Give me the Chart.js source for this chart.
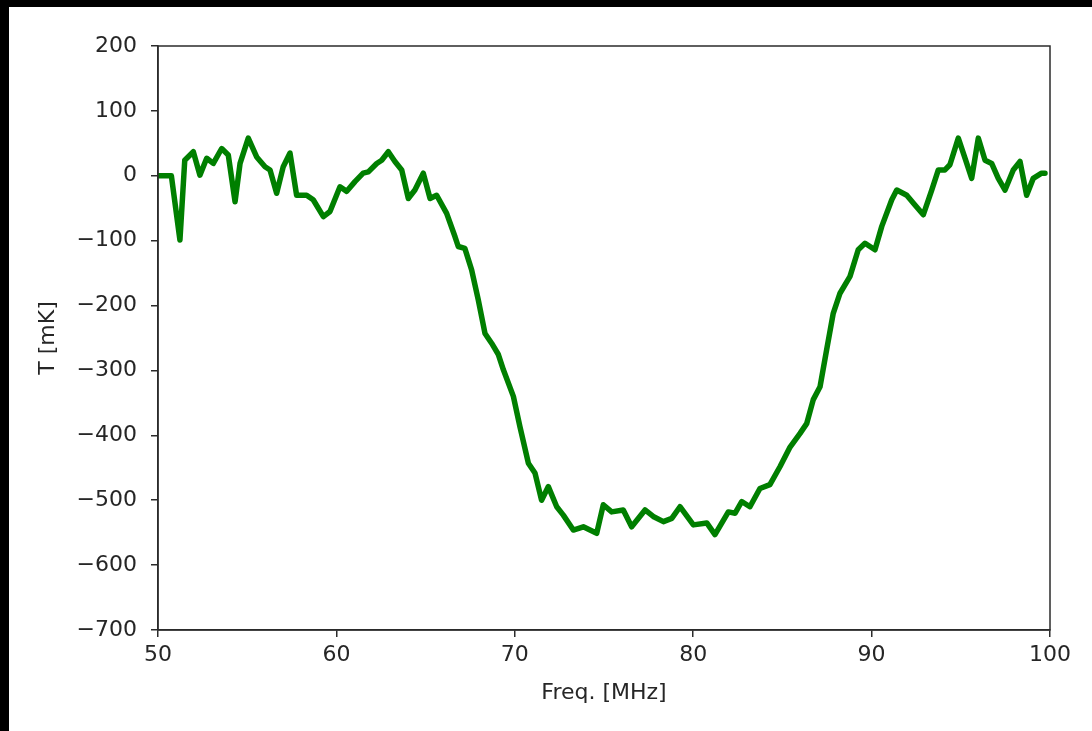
<!DOCTYPE html>
<html>
<head>
<meta charset="utf-8">
<script src="https://cdn.jsdelivr.net/npm/chart.js@4/dist/chart.umd.min.js"></script>
<style>
  html, body { margin: 0; padding: 0; background: #000; width: 1092px; height: 731px; overflow: hidden; }
  #wrap { position: absolute; left: 9px; top: 7px; width: 1083px; height: 724px; background: #fff; }
</style>
</head>
<body>
<div id="wrap"><canvas id="c" width="1083" height="724"></canvas></div>
<script>
const freqMHz = [50.05, 50.75, 51.23, 51.5, 51.98, 52.35, 52.73, 53.1, 53.57, 53.94, 54.32, 54.6, 55.06, 55.53, 56.0, 56.28, 56.65, 57.02, 57.4, 57.77, 58.33, 58.7, 59.27, 59.64, 60.2, 60.58, 61.04, 61.5, 61.79, 62.26, 62.54, 62.91, 63.28, 63.66, 64.03, 64.4, 64.87, 65.25, 65.62, 66.18, 66.65, 66.83, 67.2, 67.58, 67.95, 68.33, 68.7, 69.07, 69.36, 69.92, 70.29, 70.76, 71.13, 71.5, 71.88, 72.35, 72.72, 73.28, 73.84, 74.59, 74.96, 75.43, 76.08, 76.55, 77.3, 77.76, 78.33, 78.8, 79.26, 80.01, 80.76, 81.22, 81.97, 82.35, 82.72, 83.18, 83.74, 84.3, 84.87, 85.43, 85.99, 86.36, 86.73, 87.11, 87.48, 87.85, 88.23, 88.79, 89.25, 89.63, 90.19, 90.57, 91.13, 91.41, 91.97, 92.43, 92.9, 93.37, 93.74, 94.11, 94.39, 94.86, 95.24, 95.61, 95.98, 96.36, 96.73, 97.1, 97.48, 97.94, 98.32, 98.69, 99.06, 99.53, 99.72];
const tempMK = [0, 0, -99, 24, 37, 1, 27, 19, 42, 32, -40, 19, 58, 29, 14, 9, -27, 14, 35, -30, -30, -37, -63, -55, -17, -24, -9, 4, 6, 19, 24, 37, 22, 9, -35, -22, 4, -35, -30, -58, -94, -109, -112, -145, -191, -243, -258, -275, -299, -340, -387, -443, -458, -500, -479, -510, -523, -546, -541, -551, -507, -518, -515, -541, -515, -525, -533, -528, -510, -538, -535, -553, -518, -520, -502, -510, -482, -476, -448, -418, -397, -382, -345, -325, -268, -212, -181, -155, -114, -104, -114, -78, -37, -22, -30, -45, -60, -22, 9, 9, 17, 58, 27, -4, 58, 24, 19, -4, -22, 9, 22, -30, -4, 4, 4];
const xTicks = [50, 60, 70, 80, 90, 100];
const yTicks = [200, 100, 0, -100, -200, -300, -400, -500, -600, -700];
const xLabel = 'Freq. [MHz]';
const yLabel = 'T [mK]';

const points = freqMHz.map((f, i) => ({ x: f, y: tempMK[i] }));
const txt = '#262626';
const axisCol = '#2b2b2b';
const fnt = { family: 'DejaVu Sans', size: 22 };

const frame = {
  id: 'frame',
  afterDraw(chart) {
    const { ctx, chartArea: a } = chart;
    ctx.save();
    ctx.strokeStyle = axisCol;
    ctx.lineWidth = 1.5;
    ctx.strokeRect(a.left, a.top, a.right - a.left, a.bottom - a.top);
    ctx.restore();
  }
};

new Chart(document.getElementById('c'), {
  type: 'line',
  data: {
    datasets: [{
      data: points,
      borderColor: '#007f00',
      borderWidth: 5.5,
      pointRadius: 0,
      fill: false,
      tension: 0,
      borderJoinStyle: 'round',
      borderCapStyle: 'round'
    }]
  },
  options: {
    responsive: false,
    animation: false,
    events: [],
    layout: { padding: { left: 0, top: 39, right: 42, bottom: 0 } },
    plugins: { legend: { display: false }, tooltip: { enabled: false } },
    scales: {
      x: {
        type: 'linear',
        min: 50, max: 100,
        afterBuildTicks(s) { s.ticks = xTicks.map(v => ({ value: v })); },
        afterFit(s) { s.height = 101; },
        grid: { drawOnChartArea: false, tickLength: 7, color: axisCol, lineWidth: 1.5 },
        border: { color: axisCol, width: 1.5 },
        ticks: { color: txt, font: fnt, padding: 5, maxRotation: 0,
          callback: v => String(v).replace('-', '\u2212') },
        title: { display: true, text: xLabel, color: txt, font: fnt, padding: { top: 0, bottom: 25 } }
      },
      y: {
        type: 'linear',
        min: -700, max: 200,
        afterBuildTicks(s) { s.ticks = yTicks.slice().reverse().map(v => ({ value: v })); },
        afterFit(s) { s.width = 149; },
        grid: { drawOnChartArea: false, tickLength: 7, color: axisCol, lineWidth: 1.5 },
        border: { color: axisCol, width: 1.5 },
        ticks: { color: txt, font: fnt, padding: 14,
          callback: v => String(v).replace('-', '\u2212') },
        title: { display: true, text: yLabel, color: txt, font: fnt, padding: { top: 26, bottom: 0 } }
      }
    }
  },
  plugins: [frame]
});
</script>
</body>
</html>
